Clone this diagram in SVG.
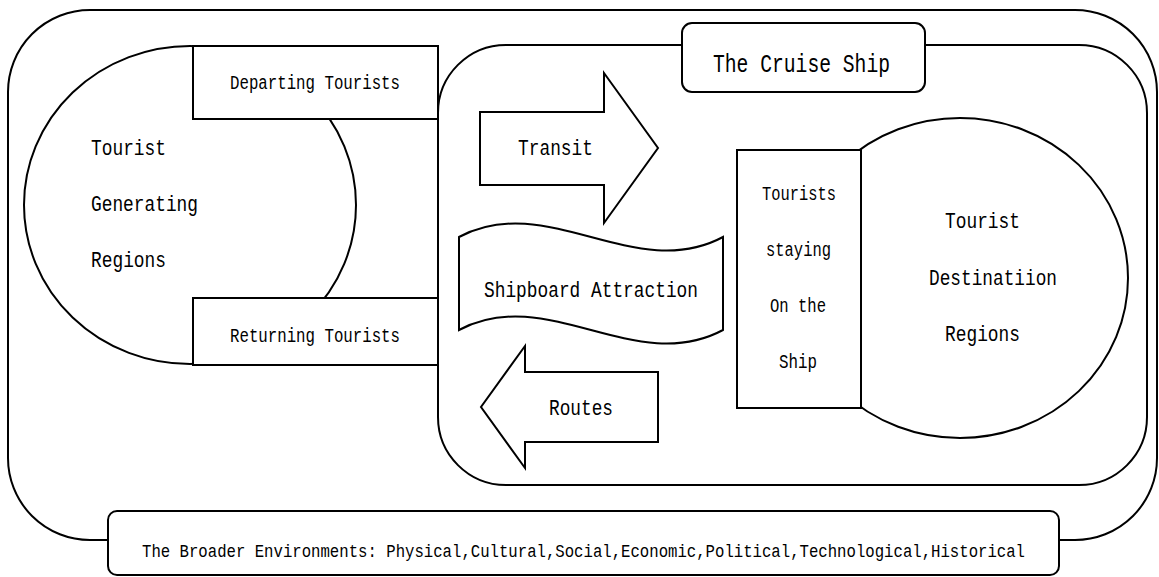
<svg xmlns="http://www.w3.org/2000/svg" width="1159" height="577" viewBox="0 0 1159 577">
  <style>
    .shape { fill: #ffffff; stroke: #000000; stroke-width: 2; }
    .lbl { font-family: "Liberation Mono", "DejaVu Sans Mono", monospace; fill: #000000; }
    .big { font-size: 22px; }
    .title { font-size: 25px; }
    .box { font-size: 20px; }
    .env { font-size: 18px; }
  </style>
  <rect width="1159" height="577" fill="#ffffff"/>

  <!-- broader environment frame -->
  <g id="environment">
    <rect class="shape" x="8" y="10" width="1149" height="530" rx="82" ry="82"/>
  </g>
  <g id="environment-label">
    <rect class="shape" x="108" y="511" width="951" height="64" rx="9" ry="9"/>
    <text class="lbl env" x="142" y="557" textLength="883" lengthAdjust="spacingAndGlyphs">The Broader Environments: Physical,Cultural,Social,Economic,Political,Technological,Historical</text>
  </g>

  <!-- generating region with departing / returning tourists -->
  <g id="generating-region">
    <ellipse class="shape" cx="190" cy="205" rx="166" ry="159"/>
    <text class="lbl big" x="91" y="155" textLength="75" lengthAdjust="spacingAndGlyphs">Tourist</text>
    <text class="lbl big" x="91" y="211" textLength="107" lengthAdjust="spacingAndGlyphs">Generating</text>
    <text class="lbl big" x="91" y="267" textLength="75" lengthAdjust="spacingAndGlyphs">Regions</text>
  </g>
  <g id="departing-tourists">
    <rect class="shape" x="193" y="46" width="245" height="73"/>
    <text class="lbl box" x="230" y="89" textLength="170" lengthAdjust="spacingAndGlyphs">Departing Tourists</text>
  </g>
  <g id="returning-tourists">
    <rect class="shape" x="193" y="298" width="245" height="67"/>
    <text class="lbl box" x="230" y="342" textLength="170" lengthAdjust="spacingAndGlyphs">Returning Tourists</text>
  </g>

  <!-- cruise ship -->
  <g id="cruise-ship">
    <rect class="shape" x="438" y="45" width="709" height="440" rx="68" ry="68"/>
  </g>
  <g id="cruise-ship-title">
    <rect class="shape" x="682" y="23" width="243" height="69" rx="10" ry="10"/>
    <text class="lbl title" x="713" y="72" textLength="177" lengthAdjust="spacingAndGlyphs">The Cruise Ship</text>
  </g>

  <g id="transit">
    <path class="shape" d="M480,112 L604,112 L604,73 L658,148 L604,223 L604,185 L480,185 Z"/>
    <text class="lbl big" x="518" y="155" textLength="75" lengthAdjust="spacingAndGlyphs">Transit</text>
  </g>

  <g id="shipboard-attraction">
    <path class="shape" d="M459,237 C547,190 635,284 723,237 L723,330 C635,377 547,283 459,330 Z"/>
    <text class="lbl big" x="484" y="297" textLength="214" lengthAdjust="spacingAndGlyphs">Shipboard Attraction</text>
  </g>

  <g id="routes">
    <path class="shape" d="M658,372 L525,372 L525,346 L481,407 L525,468 L525,442 L658,442 Z"/>
    <text class="lbl big" x="549" y="415" textLength="64" lengthAdjust="spacingAndGlyphs">Routes</text>
  </g>

  <!-- destination region with tourists staying on the ship -->
  <g id="destination-region">
    <ellipse class="shape" cx="960" cy="278" rx="168" ry="160"/>
    <text class="lbl big" x="945" y="228" textLength="75" lengthAdjust="spacingAndGlyphs">Tourist</text>
    <text class="lbl big" x="929" y="285" textLength="128" lengthAdjust="spacingAndGlyphs">Destinatiion</text>
    <text class="lbl big" x="945" y="341" textLength="75" lengthAdjust="spacingAndGlyphs">Regions</text>
  </g>
  <g id="tourists-on-ship">
    <rect class="shape" x="737" y="150" width="124" height="258"/>
    <text class="lbl box" x="762" y="200" textLength="74" lengthAdjust="spacingAndGlyphs">Tourists</text>
    <text class="lbl box" x="766" y="256" textLength="65" lengthAdjust="spacingAndGlyphs">staying</text>
    <text class="lbl box" x="770" y="312" textLength="56" lengthAdjust="spacingAndGlyphs">On the</text>
    <text class="lbl box" x="779" y="368" textLength="38" lengthAdjust="spacingAndGlyphs">Ship</text>
  </g>

  <g id="connectors"/>
</svg>
